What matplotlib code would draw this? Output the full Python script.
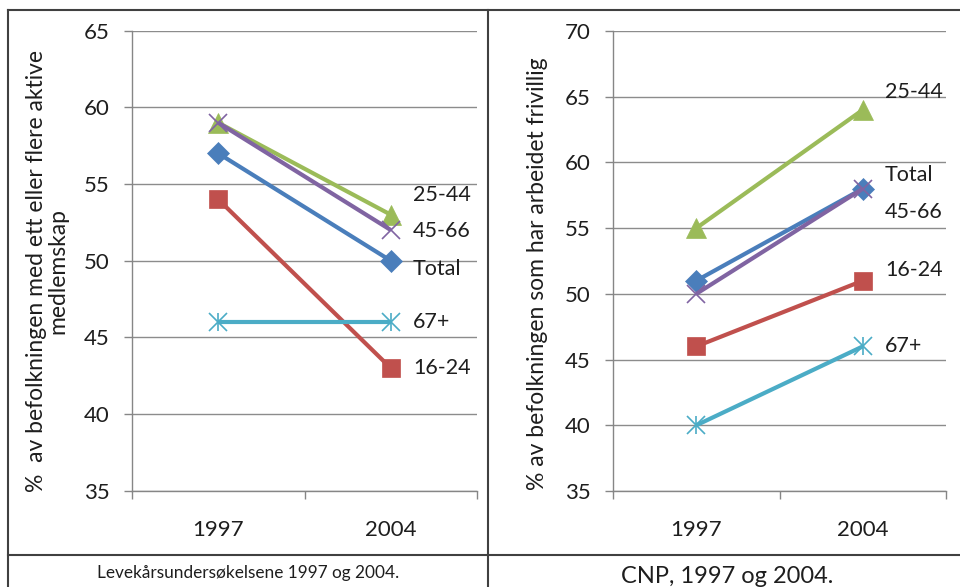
import matplotlib
matplotlib.use("Agg")
import matplotlib.pyplot as plt
from matplotlib.lines import Line2D

plt.rcParams['font.family'] = ['Lato', 'DejaVu Sans']

years = ["1997", "2004"]
series_names = ["Total", "16-24", "25-44", "45-66", "67+"]

left_total = [57, 50]
left_16_24 = [54, 43]
left_25_44 = [59, 53]
left_45_66 = [59, 52]
left_67 = [46, 46]

right_total = [51, 58]
right_16_24 = [46, 51]
right_25_44 = [55, 64]
right_45_66 = [50, 58]
right_67 = [40, 46]

left_yticks = [35, 40, 45, 50, 55, 60, 65]
right_yticks = [35, 40, 45, 50, 55, 60, 65, 70]

left_ylabel = "%  av befolkningen med ett eller flere aktive\nmedlemskap"
right_ylabel = "% av befolkningen som har arbeidet frivillig"
left_caption = "Levekårsundersøkelsene 1997 og 2004."
right_caption = "CNP, 1997 og 2004."

colors = {"Total": "#4A7EBB", "16-24": "#C0504D", "25-44": "#9BBB59",
          "45-66": "#8064A2", "67+": "#4BACC6"}
markers = {"Total": ("D", 11.5), "16-24": ("s", 13.5), "25-44": ("^", 14.5),
           "45-66": ("x", 13), "67+": ("x", 13)}

W, H = 960, 587
fig = plt.figure(figsize=(W / 100, H / 100), dpi=100)
TXT = '#1e1e1e'

def fx(px):
    return px / W

def fy(py):
    return 1 - py / H

def make_axes(rect, data, yticks, label_offsets):
    ax = fig.add_axes(rect)
    x = list(range(len(years)))
    for name, vals in zip(series_names, data):
        m, ms = markers[name]
        c = colors[name]
        ax.plot(x, vals, color=c, lw=3.0, marker=m, ms=ms, mec=c, mfc=c,
                mew=1.2 if m == "x" else 0.5, solid_capstyle='butt', zorder=3,
                clip_on=False)
        if name == "67+":
            ax.plot(x, vals, ls='none', marker='|', ms=13, mec=c, mew=1.2,
                    zorder=3, clip_on=False)
        dx, dy = label_offsets[name]
        ax.annotate(name, (x[-1], vals[-1]), xytext=(dx, dy),
                    textcoords='offset points', ha='left', va='center',
                    fontsize=15.5, color=TXT, annotation_clip=False)
    ax.set_xlim(-0.5, 1.5)
    ax.set_ylim(yticks[0], yticks[-1])
    ax.set_yticks(yticks)
    ax.set_xticks(x)
    ax.set_xticklabels(years)
    ax.set_xticks([-0.5, 0.5, 1.5], minor=True)
    ax.tick_params(axis='x', which='major', length=0, pad=21, labelsize=16,
                   labelcolor=TXT)
    ax.tick_params(axis='x', which='minor', length=6, width=1, color='#868686')
    ax.tick_params(axis='y', length=6, width=1, color='#868686', pad=10,
                   labelsize=16, labelcolor=TXT)
    ax.grid(axis='y', color='#8c8c8c', lw=1.0)
    ax.set_axisbelow(True)
    for s in ['top', 'right']:
        ax.spines[s].set_visible(False)
    for s in ['left', 'bottom']:
        ax.spines[s].set_color('#868686')
        ax.spines[s].set_linewidth(1.0)
    return ax

left_offsets = {"Total": (16, -6), "16-24": (16, 0), "25-44": (16, 14),
                "45-66": (16, -1), "67+": (16, 0)}
right_offsets = {"Total": (16, 10), "16-24": (16, 8), "25-44": (16, 13),
                 "45-66": (16, -17), "67+": (16, 0)}

axL = make_axes([fx(132), fy(490.7), fx(477 - 132), (490.7 - 30.7) / H],
                [left_total, left_16_24, left_25_44, left_45_66, left_67],
                left_yticks, left_offsets)
axR = make_axes([fx(613), fy(491), fx(946 - 613), (491 - 31) / H],
                [right_total, right_16_24, right_25_44, right_45_66, right_67],
                right_yticks, right_offsets)

fig.text(fx(47), fy(271), left_ylabel, rotation=90, ha='center', va='center',
         multialignment='center', fontsize=16.5, color=TXT, linespacing=1.05)
fig.text(fx(538), fy(274), right_ylabel, rotation=90, ha='center', va='center',
         fontsize=16.5, color=TXT)

fig.text(fx(248), fy(573), left_caption, ha='center', va='center',
         fontsize=12.4, color=TXT)
fig.text(fx(727), fy(566), right_caption, ha='center', va='top',
         fontsize=17, color=TXT)

# table frame
bc = '#404040'
fig.add_artist(Line2D([fx(8), fx(960)], [fy(10), fy(10)], color=bc, lw=1.5))
fig.add_artist(Line2D([fx(8), fx(8)], [fy(10), fy(587)], color=bc, lw=1.5))
fig.add_artist(Line2D([fx(488), fx(488)], [fy(10), fy(587)], color=bc, lw=1.5))
fig.add_artist(Line2D([fx(8), fx(960)], [fy(555), fy(555)], color=bc, lw=1.5))

fig.savefig("out.png", dpi=100, facecolor='white')
